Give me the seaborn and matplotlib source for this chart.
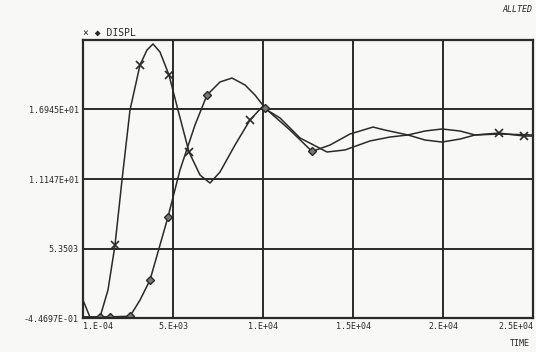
import matplotlib
matplotlib.use("Agg")
import matplotlib.pyplot as plt
import seaborn as sns
import pandas as pd

# ---- data ----
x_time = [0, 389, 944, 1389, 1778, 2167, 2611, 3167, 3556, 3889, 4278, 4778,
          5278, 5889, 6500, 7056, 7611, 8444, 9278, 9944, 10944, 12056, 13556,
          14556, 15944, 17056, 18056, 19000, 19944, 20944, 21778, 23111, 24500, 25000]
x_disp = [1.05, -0.38, -0.38, 1.89, 5.64, 11.06, 16.90, 20.66, 21.91, 22.41, 21.74, 19.82,
          16.90, 13.40, 11.48, 10.81, 11.73, 13.98, 16.07, 17.15, 16.24, 14.57, 13.40,
          13.57, 14.32, 14.65, 14.82, 15.15, 15.32, 15.15, 14.82, 14.98, 14.73, 14.73]
x_marks = [4, 7, 11, 13, 18, 31, 32]

d_time = [0, 944, 1500, 2611, 3167, 3722, 4722, 5389, 6222, 6889, 7611, 8278,
          9000, 9556, 10111, 11500, 12722, 13722, 14833, 16111, 16778, 18056,
          19000, 19944, 20944, 21778, 23167, 25000]
d_disp = [-0.35, -0.35, -0.35, -0.30, 1.05, 2.72, 7.98, 11.90, 15.65, 18.15, 19.24, 19.57,
          18.99, 18.15, 17.07, 15.23, 13.45, 13.98, 14.90, 15.48, 15.23, 14.82,
          14.40, 14.23, 14.48, 14.82, 14.90, 14.82]
d_marks = [1, 2, 3, 5, 6, 9, 14, 16]

y_ticks = [-0.44697, 5.3503, 11.147, 16.945, 22.7422]
y_labels = ["-4.4697E-01", "5.3503", "1.1147E+01", "1.6945E+01", ""]
x_ticks = [0, 5000, 10000, 15000, 20000, 25000]
x_labels = ["1.E-04", "5.E+03", "1.E+04", "1.5E+04", "2.E+04", "2.5E+04"]

# ---- styling ----
sns.set_style("white")
plt.rcParams["font.family"] = ["DejaVu Sans Mono", "DejaVu Sans"]
ink = "#2a2a2a"
paper = "#f8f8f6"

fig = plt.figure(figsize=(5.36, 3.52), dpi=100, facecolor=paper)
ax = fig.add_axes([83 / 536, 34 / 352, 450 / 536, 278 / 352])
ax.set_facecolor(paper)

dfx = pd.DataFrame({"t": x_time, "v": x_disp})
dfd = pd.DataFrame({"t": d_time, "v": d_disp})

sns.lineplot(data=dfx, x="t", y="v", ax=ax, sort=False, color=ink, lw=1.1,
             marker="x", markersize=6, markeredgewidth=1.2, markeredgecolor=ink,
             markevery=x_marks)
sns.lineplot(data=dfd, x="t", y="v", ax=ax, sort=False, color=ink, lw=1.1,
             marker="D", markersize=4, markeredgewidth=1.0, markerfacecolor="#777777",
             markeredgecolor=ink, markevery=d_marks)

ax.set_xlim(0, 25000)
ax.set_ylim(y_ticks[0], y_ticks[-1])
ax.set_xticks(x_ticks)
ax.set_xticklabels(x_labels, fontsize=6, color=ink)
ax.set_yticks(y_ticks)
ax.set_yticklabels(y_labels, fontsize=6, color=ink)
lbls = ax.get_xticklabels()
lbls[0].set_horizontalalignment("left")
lbls[-1].set_horizontalalignment("right")
ax.tick_params(length=0, pad=3)
ax.grid(True, color=ink, lw=1.4)
for s in ax.spines.values():
    s.set_color(ink)
    s.set_linewidth(1.6)
ax.set_xlabel("")
ax.set_ylabel("")

fig.text(83 / 536, 1 - 33 / 352, "\u00d7 \u25c6 DISPL", fontsize=7, color=ink,
         ha="left", va="center")
fig.text(532 / 536, 1 - 10 / 352, "ALLTED", fontsize=6, color=ink, style="italic",
         ha="right", va="center")
fig.text(530 / 536, 1 - 343 / 352, "TIME", fontsize=6, color=ink, ha="right", va="center")

fig.savefig("out.png", dpi=100, facecolor=paper)
